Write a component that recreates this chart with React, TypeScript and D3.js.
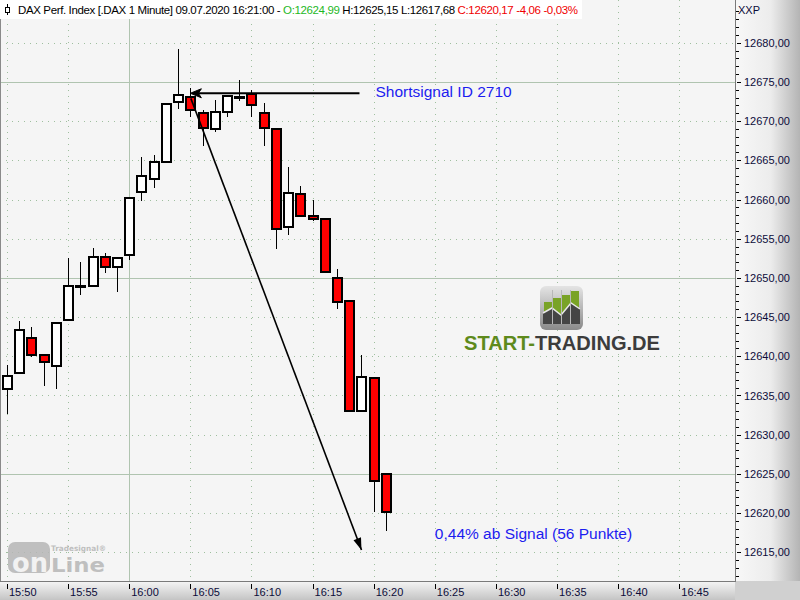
import React, { useEffect, useRef } from 'react'
import * as d3 from 'd3'

// one-minute candles, 09.07.2020
const times = [
  '15:50', '15:51', '15:52', '15:53', '15:54', '15:55', '15:56', '15:57', '15:58', '15:59',
  '16:00', '16:01', '16:02', '16:03', '16:04', '16:05', '16:06', '16:07', '16:08', '16:09',
  '16:10', '16:11', '16:12', '16:13', '16:14', '16:15', '16:16', '16:17', '16:18', '16:19',
  '16:20', '16:21'
]
const opens = [
  12635.85, 12637.86, 12642.34, 12640.17, 12638.76, 12644.64, 12648.95, 12649.0, 12652.71, 12651.43,
  12652.96, 12661.02, 12662.64, 12664.73, 12672.41, 12673.13, 12671.0, 12669.03, 12671.13, 12673.09,
  12673.44, 12671.0, 12668.96, 12656.49, 12660.64, 12657.95, 12657.57, 12650.02, 12647.08, 12633.0,
  12637.22, 12624.99
]
const highs = [
  12638.92, 12644.56, 12643.79, 12640.17, 12644.26, 12652.49, 12651.98, 12653.86, 12653.13, 12652.58,
  12660.13, 12665.41, 12665.67, 12672.16, 12679.23, 12674.2, 12671.43, 12672.67, 12673.18, 12675.27,
  12673.99, 12672.36, 12668.96, 12664.17, 12661.7, 12659.91, 12657.57, 12651.08, 12647.08, 12640.2,
  12637.22, 12625.15
]
const lows = [
  12632.66, 12637.74, 12639.86, 12636.15, 12635.89, 12644.64, 12647.79, 12649.0, 12650.61, 12648.18,
  12652.32, 12659.82, 12661.48, 12664.73, 12671.59, 12670.57, 12666.82, 12668.65, 12670.57, 12672.62,
  12670.57, 12666.82, 12653.68, 12655.47, 12657.95, 12657.26, 12650.79, 12646.0, 12632.91, 12633.0,
  12620.15, 12617.68
]
const closes = [
  12637.52, 12643.36, 12640.17, 12639.27, 12644.26, 12649.0, 12648.95, 12652.71, 12651.43, 12652.58,
  12660.13, 12662.94, 12664.73, 12672.16, 12673.31, 12671.39, 12669.09, 12671.13, 12673.18, 12673.09,
  12672.03, 12669.16, 12656.29, 12660.77, 12657.95, 12657.57, 12650.79, 12646.95, 12633.0, 12637.39,
  12624.04, 12620.17
]

const timeTicks = ['15:50', '15:55', '16:00', '16:05', '16:10', '16:15', '16:20', '16:25', '16:30', '16:35', '16:40', '16:45']
const hourLines = ['16:00']
const priceTicks = [12615, 12620, 12625, 12630, 12635, 12640, 12645, 12650, 12655, 12660, 12665, 12670, 12675, 12680]
const solidPriceLines = [12625, 12650, 12675]

// signal annotation
const signalTime = '16:05'
const signalPrice = 12673.55
const signalLineEnd = '16:19'
const moveStartPrice = 12672.9
const moveEndTime = '16:19'
const moveEndPrice = 12615.3
const resultLabelPrice = 12616.65

const W = 800
const H = 600
const plotRight = 735
const plotBottom = 581

const parseTime = d3.timeParse('%H:%M')
const de = d3.formatLocale({ decimal: ',', thousands: '.', grouping: [3], currency: ['', ' €'] })
const fmtPrice = de.format('.2f')

export default function App() {
  const svgRef = useRef<SVGSVGElement>(null)

  useEffect(() => {
    if (!svgRef.current) return
    const svg = d3.select(svgRef.current)
    svg.selectAll('*').remove()

    const t0 = parseTime(times[0])!.getTime()
    const x = d3.scaleTime()
      .domain([new Date(t0 - 34360), new Date(t0 + 3573300)])
      .range([0, plotRight])
    const y = d3.scaleLinear().domain([12615, 12680]).range([552.3, 42.7])
    const xt = (s: string) => x(parseTime(s)!)

    const defs = svg.append('defs')
    const rg = defs.append('linearGradient').attr('id', 'rightAxis').attr('x1', 0).attr('x2', 1).attr('y1', 0).attr('y2', 0)
    rg.append('stop').attr('offset', '0%').attr('stop-color', '#f8f8f8')
    rg.append('stop').attr('offset', '55%').attr('stop-color', '#ececec')
    rg.append('stop').attr('offset', '100%').attr('stop-color', '#b4b4b4')
    const bg = defs.append('linearGradient').attr('id', 'bottomAxis').attr('x1', 0).attr('x2', 0).attr('y1', 0).attr('y2', 1)
    bg.append('stop').attr('offset', '0%').attr('stop-color', '#f6f6f6')
    bg.append('stop').attr('offset', '100%').attr('stop-color', '#c4c4c4')
    const ig = defs.append('linearGradient').attr('id', 'logoIcon').attr('x1', 0).attr('x2', 0).attr('y1', 0).attr('y2', 1)
    ig.append('stop').attr('offset', '0%').attr('stop-color', '#e4e4e4')
    ig.append('stop').attr('offset', '100%').attr('stop-color', '#8a8a8a')

    // background
    svg.append('rect').attr('width', W).attr('height', H).attr('fill', '#f5f5f5')

    // grid
    const grid = svg.append('g').attr('shape-rendering', 'crispEdges')
    grid.selectAll('line.hdot')
      .data(priceTicks.filter(p => !solidPriceLines.includes(p)))
      .join('line')
      .attr('x1', 0).attr('x2', plotRight)
      .attr('y1', d => Math.round(y(d)) + 0.5).attr('y2', d => Math.round(y(d)) + 0.5)
      .attr('stroke', '#9fbf9f').attr('stroke-dasharray', '1,5')
    grid.selectAll('line.vdot')
      .data(timeTicks.filter(t => !hourLines.includes(t)))
      .join('line')
      .attr('y1', 0).attr('y2', plotBottom)
      .attr('x1', d => Math.round(xt(d)) + 0.5).attr('x2', d => Math.round(xt(d)) + 0.5)
      .attr('stroke', '#9fbf9f').attr('stroke-dasharray', '1,5')
    grid.append('g').selectAll('line')
      .data(solidPriceLines)
      .join('line')
      .attr('x1', 0).attr('x2', plotRight)
      .attr('y1', d => Math.round(y(d)) + 0.5).attr('y2', d => Math.round(y(d)) + 0.5)
      .attr('stroke', '#b0c4b0')
    grid.append('g').selectAll('line')
      .data(hourLines)
      .join('line')
      .attr('y1', 0).attr('y2', plotBottom)
      .attr('x1', d => Math.round(xt(d)) + 0.5).attr('x2', d => Math.round(xt(d)) + 0.5)
      .attr('stroke', '#b0c4b0')

    // START-TRADING.DE watermark
    const st = svg.append('g')
    st.append('rect').attr('x', 540).attr('y', 286).attr('width', 43).attr('height', 44).attr('rx', 6)
      .attr('fill', 'url(#logoIcon)')
    const barsX = [544, 553, 562, 571]
    const barsTop = [302, 298, 295, 291]
    barsX.forEach((bx, i) => {
      st.append('rect').attr('x', bx).attr('y', barsTop[i]).attr('width', 8).attr('height', 324 - barsTop[i]).attr('fill', '#79a326')
    })
    st.append('path')
      .attr('d', 'M543,313 L552,308 L561,315 L571,303 L580,309 L580,324 L543,324 Z')
      .attr('fill', '#454545')
    st.append('path')
      .attr('d', 'M543,313 L552,308 L561,315 L571,303 L580,309')
      .attr('fill', 'none').attr('stroke', '#e8e8e8').attr('stroke-width', 1.5)
    barsX.slice(1).forEach(bx => {
      st.append('rect').attr('x', bx - 1).attr('y', 290).attr('width', 1).attr('height', 34).attr('fill', '#b8b8b8')
    })
    const stText = st.append('text')
      .attr('x', 464).attr('y', 350)
      .attr('font-family', 'Liberation Sans, Arial, sans-serif')
      .attr('font-weight', 700).attr('font-size', 21)
      .attr('textLength', 196).attr('lengthAdjust', 'spacingAndGlyphs')
    stText.append('tspan').attr('fill', '#5e8a1c').text('START-')
    stText.append('tspan').attr('fill', '#3c3c3c').text('TRADING.DE')

    // Tradesignal online watermark
    const ts = svg.append('g').attr('opacity', 0.85)
    ts.append('rect').attr('x', 8).attr('y', 542).attr('width', 42).attr('height', 31).attr('rx', 7).attr('fill', '#b6b6b6')
    ts.append('text').attr('x', 12).attr('y', 572)
      .attr('font-family', 'DejaVu Sans, sans-serif').attr('font-weight', 700).attr('font-size', 26)
      .attr('textLength', 36).attr('lengthAdjust', 'spacingAndGlyphs')
      .attr('fill', '#f2f2f2').text('on')
    ts.append('text').attr('x', 51).attr('y', 572)
      .attr('font-family', 'DejaVu Sans, sans-serif').attr('font-weight', 700).attr('font-size', 20)
      .attr('textLength', 54).attr('lengthAdjust', 'spacingAndGlyphs')
      .attr('fill', '#b6b6b6').text('Line')
    ts.append('text').attr('x', 51).attr('y', 550.5)
      .attr('font-family', 'DejaVu Sans, sans-serif').attr('font-weight', 700).attr('font-size', 7.5)
      .attr('textLength', 55).attr('lengthAdjust', 'spacingAndGlyphs')
      .attr('fill', '#b6b6b6').text('Tradesignal®')

    // candles
    const candles = times.map((t, i) => ({ t, o: opens[i], h: highs[i], l: lows[i], c: closes[i] }))
    const cg = svg.append('g').attr('shape-rendering', 'crispEdges')
    const c = cg.selectAll('g').data(candles).join('g')
    c.append('line')
      .attr('x1', d => Math.round(xt(d.t)) + 0.5).attr('x2', d => Math.round(xt(d.t)) + 0.5)
      .attr('y1', d => Math.round(y(d.h))).attr('y2', d => Math.round(y(d.l)))
      .attr('stroke', '#000').attr('stroke-width', 1.3)
    c.append('rect')
      .attr('x', d => Math.round(xt(d.t)) - 4)
      .attr('y', d => Math.round(y(Math.max(d.o, d.c))))
      .attr('width', 9)
      .attr('height', d => Math.max(1, Math.round(y(Math.min(d.o, d.c))) - Math.round(y(Math.max(d.o, d.c)))))
      .attr('fill', d => d.c < d.o ? '#ff0000' : '#ffffff')
      .attr('stroke', '#000').attr('stroke-width', 1.3)

    // signal arrows
    const ag = svg.append('g')
    const hx0 = xt(signalTime)
    const hx1 = xt(signalLineEnd) - 2
    const hy = y(signalPrice)
    ag.append('line').attr('x1', hx0 + 6).attr('x2', hx1).attr('y1', hy).attr('y2', hy)
      .attr('stroke', '#000').attr('stroke-width', 2)
    ag.append('path')
      .attr('d', `M${hx0},${hy} L${hx0 + 11},${hy - 4.5} L${hx0 + 8},${hy} L${hx0 + 11},${hy + 4.5} Z`)
      .attr('fill', '#000').attr('stroke', '#000').attr('stroke-width', 1)

    const mx0 = xt(signalTime) + 0.5
    const my0 = y(moveStartPrice)
    const mx1 = xt(moveEndTime)
    const my1 = y(moveEndPrice)
    ag.append('line').attr('x1', mx0).attr('y1', my0).attr('x2', mx1).attr('y2', my1)
      .attr('stroke', '#000').attr('stroke-width', 1.6)
    const ang = Math.atan2(my1 - my0, mx1 - mx0)
    const len = 12
    const half = 4
    const bx = mx1 - len * Math.cos(ang)
    const by = my1 - len * Math.sin(ang)
    ag.append('path')
      .attr('d', `M${mx1},${my1} L${bx + half * Math.sin(ang)},${by - half * Math.cos(ang)} L${bx - half * Math.sin(ang)},${by + half * Math.cos(ang)} Z`)
      .attr('fill', '#000')

    // annotation texts
    svg.append('text')
      .attr('x', xt(signalLineEnd) + 14).attr('y', hy + 3.5)
      .attr('font-family', 'Liberation Sans, Arial, sans-serif').attr('font-size', 15.5)
      .attr('fill', '#1c1cf0').text('Shortsignal ID 2710')
    svg.append('text')
      .attr('x', xt('16:25')).attr('y', y(resultLabelPrice))
      .attr('font-family', 'Liberation Sans, Arial, sans-serif').attr('font-size', 15.5)
      .attr('fill', '#1c1cf0').text('0,44% ab Signal (56 Punkte)')

    // right price axis
    const ra = svg.append('g')
    ra.append('rect').attr('x', plotRight).attr('y', 0).attr('width', W - plotRight).attr('height', plotBottom)
      .attr('fill', 'url(#rightAxis)')
    ra.append('line').attr('x1', plotRight + 0.5).attr('x2', plotRight + 0.5).attr('y1', 0).attr('y2', plotBottom)
      .attr('stroke', '#7a7a7a').attr('shape-rendering', 'crispEdges')
    const minor = d3.range(12611, 12686)
    ra.selectAll('line.minor').data(minor.filter(p => p % 5 !== 0)).join('line')
      .attr('x1', plotRight + 1).attr('x2', plotRight + 4)
      .attr('y1', d => Math.round(y(d)) + 0.5).attr('y2', d => Math.round(y(d)) + 0.5)
      .attr('stroke', '#000').attr('shape-rendering', 'crispEdges')
    ra.selectAll('line.major').data(priceTicks).join('line')
      .attr('x1', plotRight + 2).attr('x2', plotRight + 6)
      .attr('y1', d => Math.round(y(d)) + 0.5).attr('y2', d => Math.round(y(d)) + 0.5)
      .attr('stroke', '#000').attr('shape-rendering', 'crispEdges')
    ra.selectAll('text.lab').data(priceTicks).join('text')
      .attr('x', plotRight + 9).attr('y', d => y(d) + 4)
      .attr('font-family', 'Liberation Sans, Arial, sans-serif').attr('font-size', 11)
      .attr('fill', '#0c0c3a').text(d => fmtPrice(d))
    ra.append('text').attr('x', plotRight + 3).attr('y', 14)
      .attr('font-family', 'Liberation Sans, Arial, sans-serif').attr('font-size', 11)
      .attr('fill', '#0c0c3a').text('XXP')

    // bottom time axis
    const ba = svg.append('g')
    ba.append('rect').attr('x', 0).attr('y', plotBottom).attr('width', plotRight).attr('height', H - plotBottom)
      .attr('fill', 'url(#bottomAxis)')
    ba.append('rect').attr('x', plotRight).attr('y', plotBottom).attr('width', W - plotRight).attr('height', H - plotBottom)
      .attr('fill', '#d0d0d0')
    ba.append('line').attr('x1', 0).attr('x2', plotRight + 1).attr('y1', plotBottom + 0.5).attr('y2', plotBottom + 0.5)
      .attr('stroke', '#7a7a7a').attr('shape-rendering', 'crispEdges')
    ba.selectAll('line.tick').data(timeTicks).join('line')
      .attr('x1', d => Math.round(xt(d)) + 0.5).attr('x2', d => Math.round(xt(d)) + 0.5)
      .attr('y1', plotBottom + 3).attr('y2', plotBottom + 8)
      .attr('stroke', '#000').attr('shape-rendering', 'crispEdges')
    ba.selectAll('text.tick').data(timeTicks).join('text')
      .attr('x', d => xt(d) + 2).attr('y', plotBottom + 15)
      .attr('font-family', 'Liberation Sans, Arial, sans-serif').attr('font-size', 11)
      .attr('fill', '#0c0c3a').text(d => d)

    // left border
    svg.append('line').attr('x1', 0.5).attr('x2', 0.5).attr('y1', 0).attr('y2', plotBottom)
      .attr('stroke', '#8a8a8a').attr('shape-rendering', 'crispEdges')

    // header
    const hd = svg.append('g')
    hd.append('rect').attr('x', 0).attr('y', 0).attr('width', 582).attr('height', 19).attr('fill', '#ffffff')
    hd.append('line').attr('x1', 7.5).attr('x2', 7.5).attr('y1', 4).attr('y2', 15).attr('stroke', '#000')
      .attr('shape-rendering', 'crispEdges')
    hd.append('rect').attr('x', 5.5).attr('y', 7.5).attr('width', 4).attr('height', 5).attr('fill', '#fff').attr('stroke', '#000')
      .attr('shape-rendering', 'crispEdges')
    const ht = hd.append('text').attr('x', 18).attr('y', 14)
      .attr('font-family', 'Liberation Sans, Arial, sans-serif').attr('font-size', 11.5)
      .attr('textLength', 560).attr('lengthAdjust', 'spacing')
    ht.append('tspan').attr('fill', '#000').text('DAX Perf. Index [.DAX  1 Minute] 09.07.2020 16:21:00 - ')
    ht.append('tspan').attr('fill', '#1fb81f').text('O:12624,99')
    ht.append('tspan').attr('fill', '#000').text(' H:12625,15 L:12617,68 ')
    ht.append('tspan').attr('fill', '#f00000').text('C:12620,17 -4,06 -0,03%')
  }, [])

  return (
    <div>
      <style>{'body{margin:0;}'}</style>
      <svg ref={svgRef} width={W} height={H} style={{ display: 'block' }} />
    </div>
  )
}
